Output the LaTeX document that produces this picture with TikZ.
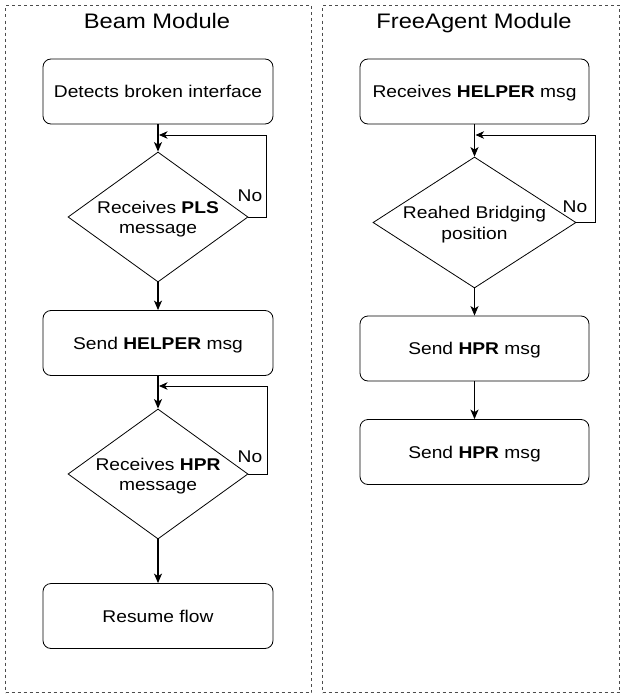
\documentclass[tikz,border=0pt]{standalone}
\usepackage{fontspec}
\setmainfont[FakeStretch=1.13]{Liberation Sans}
\usetikzlibrary{shapes.geometric,arrows.meta}

\begin{document}
\begin{tikzpicture}[x=1pt,y=-1pt,
  module/.style={draw=black!70, line width=1pt, dash pattern=on 3pt off 3pt,
    inner sep=0pt, anchor=north west},
  title/.style={font=\fontsize{21}{25}\selectfont, anchor=base},
  stepbox/.style={draw, rounded corners=8pt, line width=0.8pt,
    minimum height=65pt, inner sep=0pt,
    font=\fontsize{17}{21}\selectfont, text height=12.3pt, text depth=0pt},
  decision/.style={draw, diamond, line width=0.8pt, inner sep=0pt},
  dtext/.style={font=\fontsize{17}{20.7}\selectfont, align=center, inner sep=0pt},
  nolabel/.style={font=\fontsize{17}{20}\selectfont, inner sep=0pt},
  flow/.style={-{Stealth[length=9.5pt,width=8pt,inset=2.5pt]}, line width=1.3pt},
  loop/.style={-{Stealth[length=8.5pt,width=7.5pt,inset=2.5pt]}, line width=0.9pt}]

\useasboundingbox (0,0) rectangle (624,696);

% module frames
\node[module, minimum width=306pt, minimum height=687pt] (beamframe) at (5,5) {};
\node[module, minimum width=297pt, minimum height=687pt] (agentframe) at (322,5) {};

\node[title] (beamtitle) at (157,28.3) {Beam Module};
\node[title] (agenttitle) at (474,28.3) {FreeAgent Module};

% Beam module flow
\node[stepbox, minimum width=230pt] (detect) at (158,91.5) {Detects broken interface};
\node[decision, minimum width=180pt, minimum height=130pt] (pls) at (158,217) {};
\node[dtext] (plstext) at (158,219) {Receives \textbf{PLS}\\message};
\node[stepbox, minimum width=230pt] (helper) at (158,343) {Send \textbf{HELPER} msg};
\node[decision, minimum width=180pt, minimum height=130pt] (hpr) at (158,474) {};
\node[dtext] (hprtext) at (158,476) {Receives \textbf{HPR}\\message};
\node[stepbox, minimum width=230pt] (resume) at (158,616) {Resume flow};

\node[nolabel] (plsno) at (250,196) {No};
\node[nolabel] (hprno) at (250,457) {No};

\coordinate (plsjoin) at (159,135);
\coordinate (hprjoin) at (159,386);

\draw[flow] (detect.south) -- (pls.north);
\draw[loop] (pls.east) -- (266,217) -- (266,135) -- (plsjoin);
\draw[flow] (pls.south) -- (helper.north);
\draw[flow] (helper.south) -- (hpr.north);
\draw[loop] (hpr.east) -- (267,474) -- (267,386) -- (hprjoin);
\draw[flow] (hpr.south) -- (resume.north);

% FreeAgent module flow
\node[stepbox, minimum width=229pt] (recv) at (474.5,91.5) {Receives \textbf{HELPER} msg};
\node[decision, minimum width=203pt, minimum height=131pt] (bridge) at (474.5,222.5) {};
\node[dtext] (bridgetext) at (474.5,224.5) {Reahed Bridging\\position};
\node[stepbox, minimum width=229pt] (hprone) at (474.5,348.5) {Send \textbf{HPR} msg};
\node[stepbox, minimum width=229pt] (hprtwo) at (474.5,452) {Send \textbf{HPR} msg};

\node[nolabel] (bridgeno) at (575,207) {No};

\coordinate (bridgejoin) at (475.5,135);

\draw[flow] (recv.south) -- (bridge.north);
\draw[loop] (bridge.east) -- (595,222.5) -- (595,135) -- (bridgejoin);
\draw[flow] (bridge.south) -- (hprone.north);
\draw[flow] (hprone.south) -- (hprtwo.north);

\end{tikzpicture}
\end{document}
